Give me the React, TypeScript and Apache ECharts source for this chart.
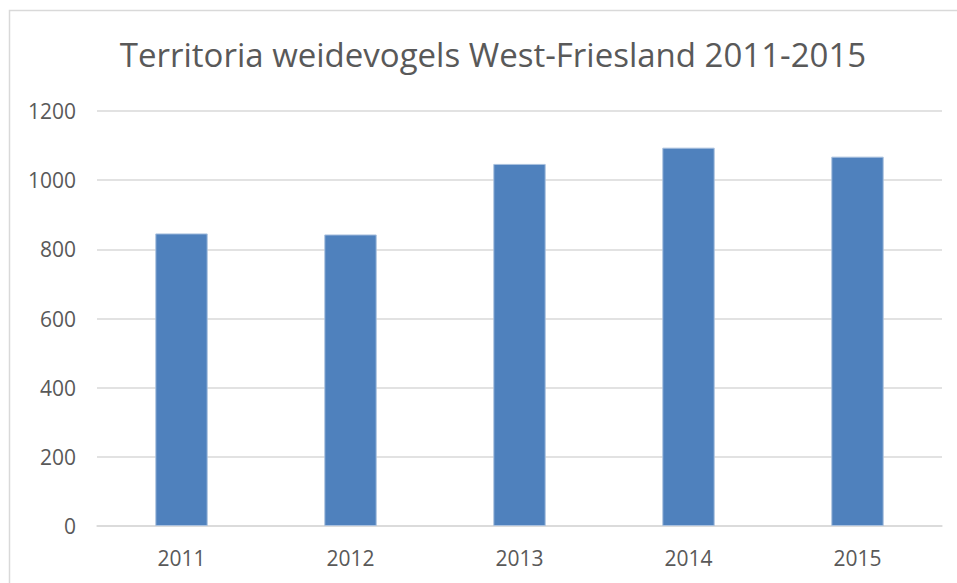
import React, { useEffect, useRef } from "react";
import * as echarts from "echarts";

const title = "Territoria weidevogels West-Friesland 2011-2015";
const years = ["2011", "2012", "2013", "2014", "2015"];
const territories = [846, 843, 1047, 1094, 1068];
const yTicks = { min: 0, max: 1200, interval: 200 };

export default function App() {
  const ref = useRef<HTMLDivElement>(null);
  useEffect(() => {
    if (!ref.current) return;
    const chart = echarts.init(ref.current, undefined, { renderer: "svg" });
    const font = "Open Sans, Noto Sans, sans-serif";
    chart.setOption({
      animation: false,
      backgroundColor: "#ffffff",
      title: {
        text: title,
        left: 488,
        top: 33,
        textAlign: "center",
        textStyle: { fontFamily: font, fontSize: 33, fontWeight: "normal", color: "#595959" },
      },
      graphic: [
        {
          type: "rect",
          shape: { x: 9.5, y: 10.5, width: 980, height: 600 },
          style: { fill: "none", stroke: "#D9D9D9", lineWidth: 1.5 },
          silent: true,
        },
      ],
      grid: { left: 97, right: 15, top: 111, bottom: 57 },
      xAxis: {
        type: "category",
        data: years,
        axisLine: { show: true, lineStyle: { color: "#D9D9D9", width: 1.5 } },
        axisTick: { show: false },
        axisLabel: { fontFamily: font, fontSize: 21, color: "#595959", margin: 21 },
      },
      yAxis: {
        type: "value",
        min: yTicks.min,
        max: yTicks.max,
        interval: yTicks.interval,
        axisLine: { show: false },
        axisTick: { show: false },
        splitLine: { lineStyle: { color: "#D9D9D9", width: 1.5 } },
        axisLabel: {
          fontFamily: font,
          fontSize: 21,
          color: "#595959",
          margin: 21,
          formatter: (v: number) => String(v),
        },
      },
      series: [
        {
          type: "bar",
          data: territories,
          barWidth: "31%",
          itemStyle: { color: "#4F81BD", borderColor: "#A9C0DE", borderWidth: 1 },
        },
      ],
    });
    return () => chart.dispose();
  }, []);
  return (
    <div
      ref={ref}
      style={{ position: "fixed", left: 0, top: 0, width: 957, height: 583 }}
    />
  );
}
